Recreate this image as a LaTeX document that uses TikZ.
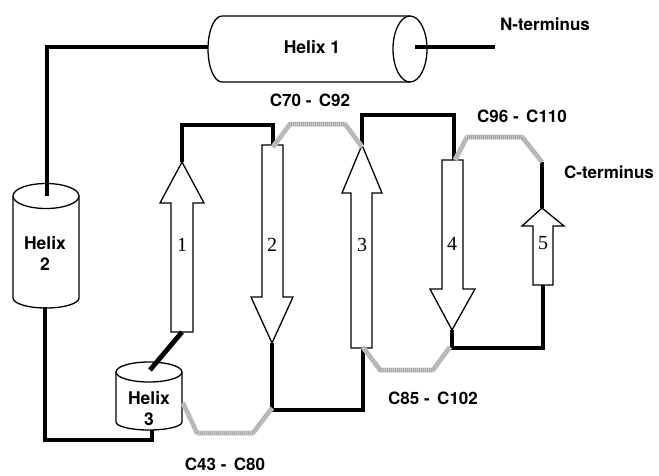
\documentclass[tikz,border=0pt]{standalone}
\usepackage{fontspec}
\setsansfont{TeX Gyre Heros}
\newfontfamily\numfont{Liberation Serif}
\begin{document}
\begin{tikzpicture}[x=1pt,y=-1pt,
  outl/.style={draw=black,line width=1.3pt,fill=white,line join=miter},
  bb/.style={draw=black,line width=4.8pt,line join=miter,line cap=butt},
  grayl/.style={draw=gray!40,line width=5pt,line join=round},
  grayd/.style={draw=gray!75,line width=4pt,dash pattern=on 0.7pt off 1.3pt,line join=round},
  lab/.style={font=\sffamily\bfseries\fontsize{17}{19}\selectfont,inner sep=0pt},
  hlab/.style={font=\sffamily\bfseries\fontsize{17.5}{21}\selectfont,inner sep=0pt,align=center},
  slab/.style={font=\numfont\fontsize{20}{20}\selectfont,inner sep=0pt}]
\useasboundingbox (0,0) rectangle (659,475);

% ---------- Helix 1 ----------
\draw[outl] (410,82) -- (222,82) arc[start angle=90,end angle=270,x radius=14,y radius=33] -- (410,16);
\draw[outl] (410,49) ellipse[x radius=17,y radius=33];
\coordinate (h1L) at (208,47);
\coordinate (h1R) at (415,47);
\node[hlab] (h1t) at (312,47) {Helix 1};
\coordinate (nterm) at (495,47);
\node[lab] (ntl) at (545,24) {N-terminus};

% ---------- Helix 2 ----------
\draw[outl] (13,196) -- (13,298) arc[start angle=180,end angle=0,x radius=33,y radius=10] -- (79,196);
\draw[outl] (46,196) ellipse[x radius=33,y radius=12.5];
\coordinate (h2T) at (47,196);
\coordinate (h2B) at (45,307);
\node[hlab] (h2t) at (45,253) {Helix\\2};

% ---------- Helix 3 ----------
\draw[outl] (116,372) -- (116,422) arc[start angle=180,end angle=0,x radius=33,y radius=8] -- (182,372);
\draw[outl] (149,372) ellipse[x radius=33,y radius=10];
\coordinate (h3T) at (150,370);
\coordinate (h3B) at (152,430);
\coordinate (h3R) at (183,403);
\node[hlab] (h3t) at (149,409) {Helix\\3};

% ---------- strands ----------
% strand 1 (up)
\draw[outl] (171,332) -- (171,203) -- (160,203) -- (182,162) -- (204,203) -- (193,203) -- (193,332) -- cycle;
\coordinate (s1B) at (182,332); \coordinate (s1T) at (182,162);
% strand 2 (down)
\draw[outl] (262,145) -- (262,297) -- (251,297) -- (272,343) -- (293,297) -- (283,297) -- (283,145) -- cycle;
\coordinate (s2T) at (273,145); \coordinate (s2B) at (272,343);
% strand 3 (up)
\draw[outl] (351,348) -- (351,193) -- (342,193) -- (362,145) -- (382,193) -- (372,193) -- (372,348) -- cycle;
\coordinate (s3B) at (363,348); \coordinate (s3T) at (362,145);
% strand 4 (down)
\draw[outl] (442,160) -- (442,289) -- (430,289) -- (452,330) -- (475,289) -- (463,289) -- (463,160) -- cycle;
\coordinate (s4T) at (454,160); \coordinate (s4B) at (452,330);
% strand 5 (up)
\draw[outl] (533,285) -- (533,226) -- (522,226) -- (542,208) -- (564,226) -- (553,226) -- (553,285) -- cycle;
\coordinate (s5B) at (543,285); \coordinate (s5T) at (542,208);

\node[slab] (n1) at (182,245) {1};
\node[slab] (n2) at (272,245) {2};
\node[slab] (n3) at (362,245) {3};
\node[slab] (n4) at (452,244) {4};
\node[slab] (n5) at (543,243) {5};

% ---------- black connectors ----------
\draw[bb] (h1R) -- (nterm);
\draw[bb] (h1L) -- (47,47) -- (h2T);
\draw[bb] (h2B) -- (45,440) -- (152,440) -- (h3B);
\draw[bb] (h3T) -- (s1B);
\draw[bb] (s1T) -- (182,125) -- (273,125) -- (s2T);
\draw[bb] (s2B) -- (272,410) -- (363,410) -- (s3B);
\draw[bb] (s3T) -- (362,115) -- (454,115) -- (s4T);
\draw[bb] (s4B) -- (452,348) -- (543,348) -- (s5B);
\coordinate (cterm) at (542,162);
\draw[bb] (s5T) -- (cterm);

% ---------- gray (disulfide) connectors ----------
\foreach \p in {
  {(h3R) -- (197,433) -- (253,433) -- (272,408)},
  {(273,147) -- (290,124) -- (345,124) -- (362,147)},
  {(363,347) -- (380,370) -- (433,370) -- (450,347)},
  {(455,160) -- (467,137) -- (522,137) -- (cterm)}}
{ \draw[grayl] \p; \draw[grayd] \p; }

% ---------- labels ----------
\node[lab] (c1) at (310,100) {C70 -\, C92};
\node[lab] (c2) at (522,116) {C96 -\, C110};
\node[lab] (c3) at (609,172) {C-terminus};
\node[lab] (c4) at (433,398) {C85 -\, C102};
\node[lab] (c5) at (225,464) {C43 -\, C80};
\end{tikzpicture}
\end{document}
